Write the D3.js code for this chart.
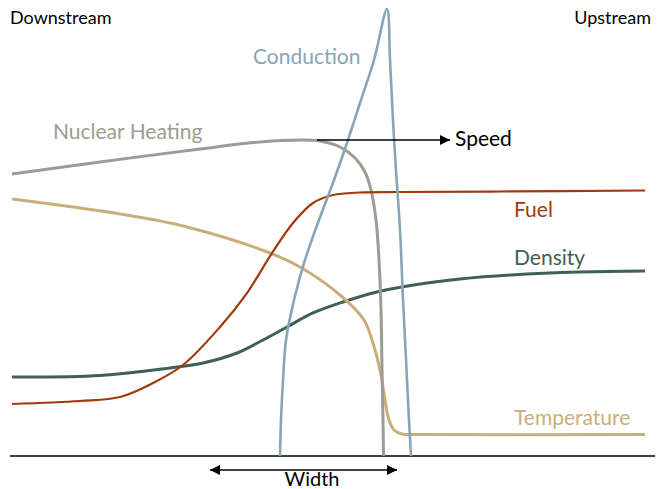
<!DOCTYPE html>
<html><head><meta charset="utf-8">
<script src="https://cdn.jsdelivr.net/npm/d3@7"></script>
<style>html,body{margin:0;padding:0;background:#fff;}svg{display:block;font-family:Lato,"Open Sans",sans-serif;}</style>
</head><body>
<svg id="c" width="665" height="489"></svg>
<script>
// data (arbitrary units: x = position 0..100, y = magnitude 0..100)
const conductionX = [42.19,42.34,42.66,43.13,44.38,46.09,48.28,50.63,52.81,54.84,56.88,58.91,59.38,59.84,60.31,60.94,61.41,61.88,62.34,62.66];
const conductionY = [0,8,16.89,25.78,34.67,43.56,52.44,61.33,70.22,79.11,88.0,99.33,88,74.67,63.56,50.22,34.67,21.33,8,0];
const nuclearX = [0.31,14.06,29.69,39.06,45.31,48.44,51.56,53.91,55.47,56.41,57.19,57.66,57.97,58.13,58.28,58.36];
const nuclearY = [62.67,65.33,68.22,69.78,70.22,70.0,68.67,66.22,63.11,59.11,52.44,43.56,32.44,19.11,8,0];
const temperatureX = [0.31,17.19,27.66,40.63,45.31,51.56,55.31,57.03,57.97,58.59,59.22,60.0,61.25,64.06,99.22];
const temperatureY = [57.11,53.78,50.89,45.11,42.0,35.78,30.22,23.56,18,12.44,8,5.78,4.89,4.78,4.78];
const fuelX = [0.31,10.94,17.19,22.34,27.03,32.81,37.03,40.94,44.22,47.34,50.47,54.69,60.94,76.56,99.22];
const fuelY = [11.56,12.22,13.11,16.22,20.22,28.67,36.22,45.11,51.78,56.22,58.0,58.56,58.67,58.78,59.0];
const densityX = [0.31,14.06,25.0,30.16,35.47,39.53,43.28,47.34,52.03,57.34,64.06,70.31,78.28,89.06,99.22];
const densityY = [17.56,17.89,19.56,20.67,22.89,25.78,28.67,31.78,34.22,36.44,38.22,39.33,40.22,40.89,41.11];
const speedArrow = {x0:47.97, x1:68.75, y:70.22};
const widthArrow = {x0:31.25, x1:60.47, y:-3.11};
const axisExtent = [0, 100.8];

const x = d3.scaleLinear().domain([0,100]).range([10,650]);
const y = d3.scaleLinear().domain([0,100]).range([456,6]);
const svg = d3.select("#c");

const defs = svg.append("defs");
defs.append("marker").attr("id","ah").attr("viewBox","0 0 10 10").attr("refX",10).attr("refY",5)
  .attr("markerWidth",15).attr("markerHeight",10).attr("markerUnits","userSpaceOnUse").attr("orient","auto-start-reverse")
  .append("path").attr("d","M0,0L10,5L0,10Z").attr("fill","#000");

const line = d3.line().x(d=>x(d[0])).y(d=>y(d[1])).curve(d3.curveCatmullRom.alpha(0.5));
const zip = (a,b)=>a.map((v,i)=>[v,b[i]]);

// baseline
svg.append("line").attr("x1",x(axisExtent[0])).attr("x2",x(axisExtent[1])).attr("y1",y(0)).attr("y2",y(0))
  .attr("stroke","#000").attr("stroke-width",1.5);

const series = [
  {xs:densityX, ys:densityY, c:"#3e6151", w:3},
  {xs:temperatureX, ys:temperatureY, c:"#c9ae7c", w:3},
  {xs:nuclearX, ys:nuclearY, c:"#9b9c92", w:3},
  {xs:fuelX, ys:fuelY, c:"#a03a0b", w:2.2},
  {xs:conductionX, ys:conductionY, c:"#88a5b5", w:2.6},
];
series.forEach(s=>{
  svg.append("path").attr("d",line(zip(s.xs,s.ys))).attr("fill","none").attr("stroke",s.c).attr("stroke-width",s.w);
});

// arrows
svg.append("line").attr("x1",x(speedArrow.x0)).attr("x2",x(speedArrow.x1)).attr("y1",y(speedArrow.y)).attr("y2",y(speedArrow.y))
  .attr("stroke","#000").attr("stroke-width",1.5).attr("marker-end","url(#ah)");
svg.append("line").attr("x1",x(widthArrow.x0)).attr("x2",x(widthArrow.x1)).attr("y1",y(widthArrow.y)).attr("y2",y(widthArrow.y))
  .attr("stroke","#000").attr("stroke-width",1.5).attr("marker-end","url(#ah)").attr("marker-start","url(#ah)");

// labels
const lab = (t,px,py,c,fs,anchor)=>svg.append("text").attr("x",px).attr("y",py).attr("fill",c)
  .attr("font-size",fs).attr("text-anchor",anchor||"start").text(t);
lab("Downstream",10,24,"#000",18);
lab("Upstream",651,24,"#000",18,"end");
lab("Conduction",253,64,"#88a5b5",21);
lab("Nuclear Heating",53,139,"#9b9c92",21);
lab("Speed",455,146,"#000",21);
lab("Fuel",514,217,"#a03a0b",21);
lab("Density",514,265,"#3e6151",21);
lab("Temperature",514,425,"#c9ae7c",21);
lab("Width",312,486,"#000",20,"middle");
</script>
</body></html>
